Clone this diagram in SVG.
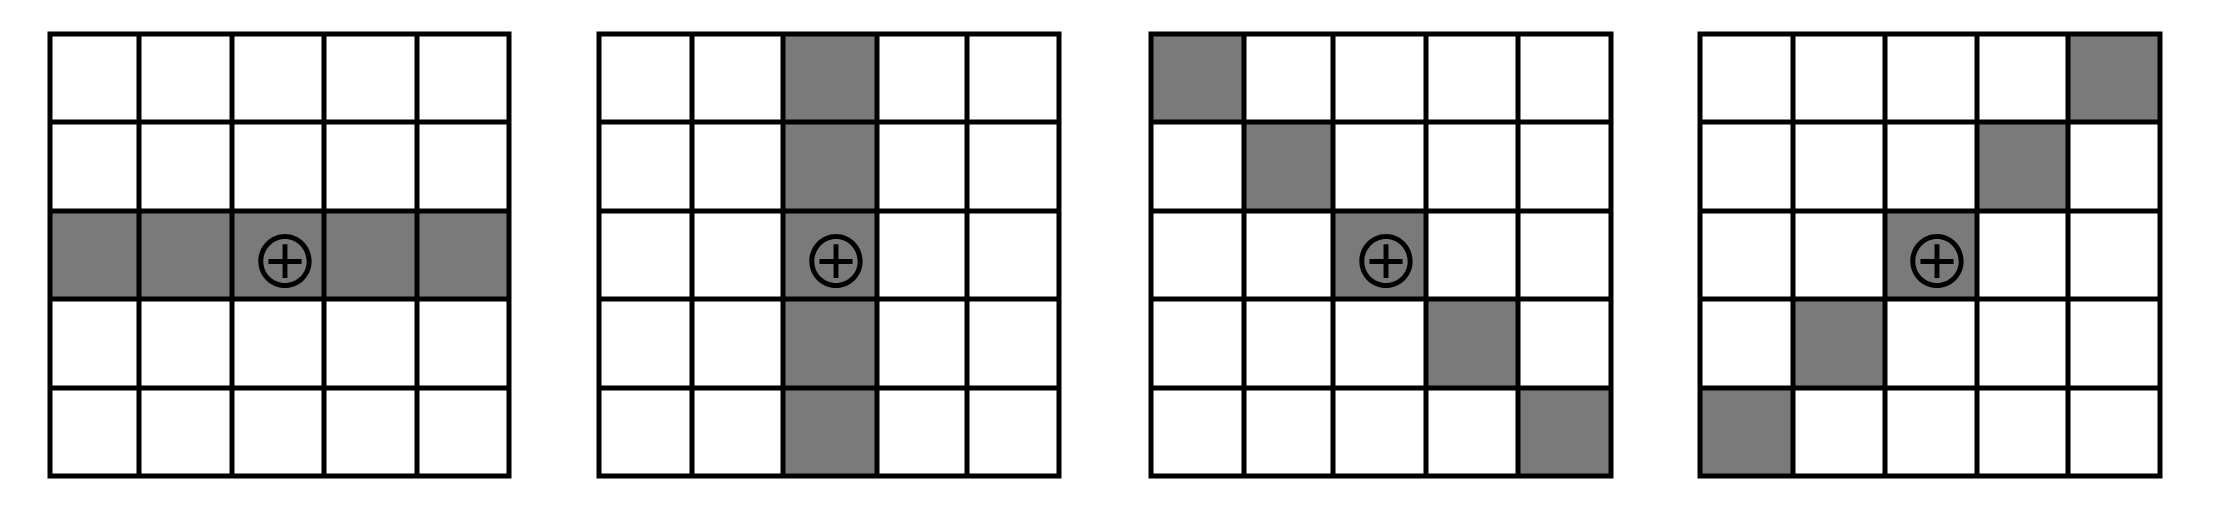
<svg xmlns="http://www.w3.org/2000/svg" width="2220" height="510" viewBox="0 0 2220 510">
<style>
.bg{fill:#ffffff}
.cell{fill:#7a7a7a}
.grid{fill:none;stroke:#000;stroke-width:5;stroke-linecap:square}
.sym{font-family:"Noto Sans CJK JP","DejaVu Sans",sans-serif;font-size:72px;fill:#000;text-anchor:middle}
</style>
<rect class="bg" x="0" y="0" width="2220" height="510"/>
<g id="grid1">
<rect class="cell" x="50" y="211" width="459" height="88"/>
<path class="grid" d="M50,34V476M139,34V476M232,34V476M324,34V476M417,34V476M509,34V476M50,34H509M50,122H509M50,211H509M50,299H509M50,388H509M50,476H509"/>
<text class="sym" x="285" y="288">⊕</text>
</g>
<g id="grid2">
<rect class="cell" x="783" y="34" width="94" height="442"/>
<path class="grid" d="M599,34V476M692,34V476M783,34V476M877,34V476M967,34V476M1059,34V476M599,34H1059M599,122H1059M599,211H1059M599,299H1059M599,388H1059M599,476H1059"/>
<text class="sym" x="836" y="288">⊕</text>
</g>
<g id="grid3">
<rect class="cell" x="1151" y="34" width="93" height="88"/>
<rect class="cell" x="1244" y="122" width="89" height="89"/>
<rect class="cell" x="1333" y="211" width="93" height="88"/>
<rect class="cell" x="1426" y="299" width="92" height="89"/>
<rect class="cell" x="1518" y="388" width="93" height="88"/>
<path class="grid" d="M1151,34V476M1244,34V476M1333,34V476M1426,34V476M1518,34V476M1611,34V476M1151,34H1611M1151,122H1611M1151,211H1611M1151,299H1611M1151,388H1611M1151,476H1611"/>
<text class="sym" x="1386" y="288">⊕</text>
</g>
<g id="grid4">
<rect class="cell" x="2068" y="34" width="92" height="88"/>
<rect class="cell" x="1977" y="122" width="91" height="89"/>
<rect class="cell" x="1885" y="211" width="92" height="88"/>
<rect class="cell" x="1793" y="299" width="92" height="89"/>
<rect class="cell" x="1700" y="388" width="93" height="88"/>
<path class="grid" d="M1700,34V476M1793,34V476M1885,34V476M1977,34V476M2068,34V476M2160,34V476M1700,34H2160M1700,122H2160M1700,211H2160M1700,299H2160M1700,388H2160M1700,476H2160"/>
<text class="sym" x="1937" y="288">⊕</text>
</g>
<g id="connectors"/>
</svg>
